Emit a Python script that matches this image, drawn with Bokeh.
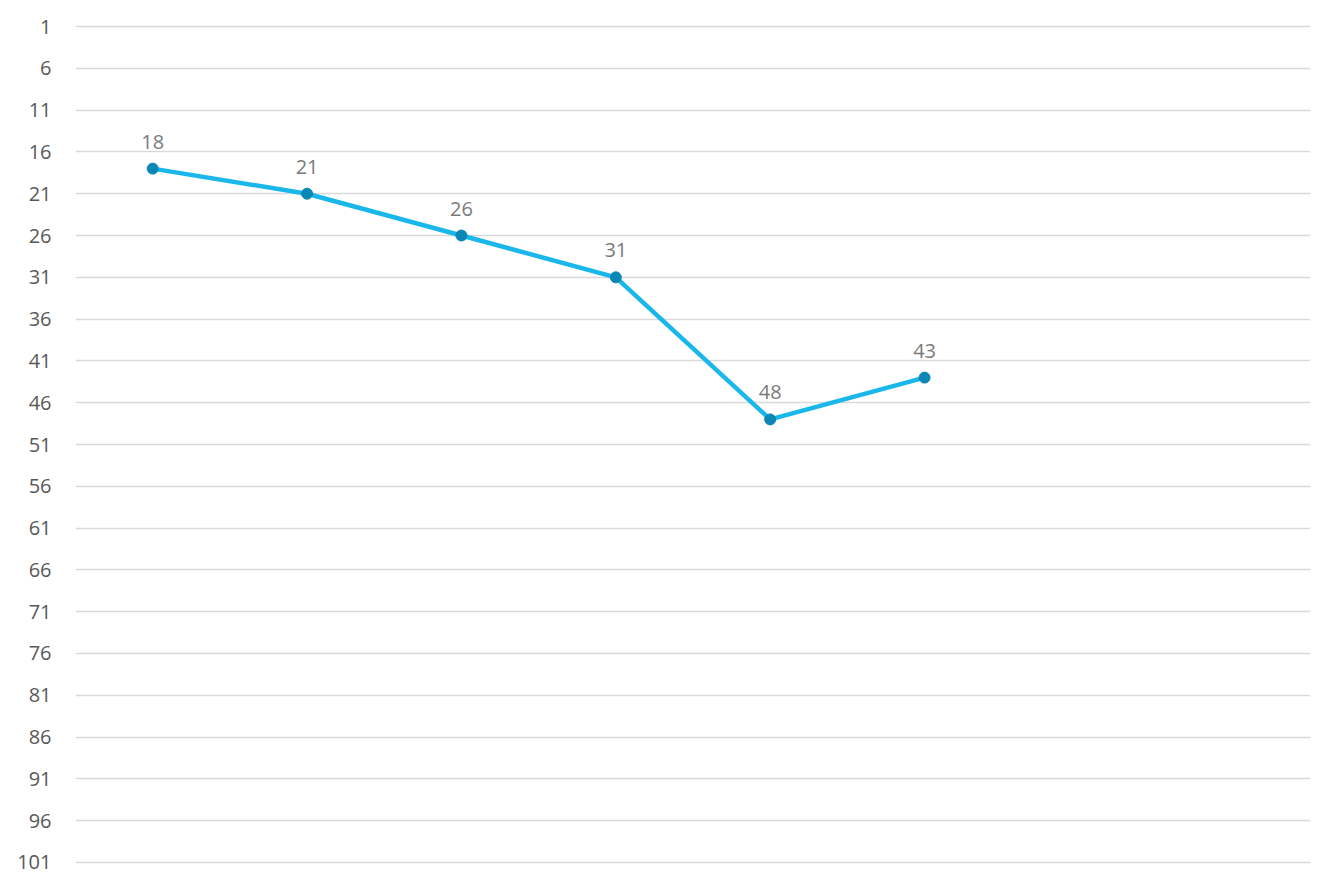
from bokeh.plotting import figure
from bokeh.models import Range1d, FixedTicker, ColumnDataSource
from bokeh.embed import file_html
from bokeh.resources import INLINE
from bokeh.core.properties import value

# data
positions = [1, 2, 3, 4, 5, 6]
values = [18, 21, 26, 31, 48, 43]
labels = [str(v) for v in values]
n_categories = 8
y_ticks = list(range(1, 102, 5))

src = ColumnDataSource(dict(x=positions, y=values, lab=labels))

p = figure(width=1326, height=881, output_backend="svg", toolbar_location=None,
           x_range=Range1d(0.5, n_categories + 0.5), y_range=Range1d(101.24, 0.76),
           min_border_left=75, min_border_right=16, min_border_top=24, min_border_bottom=17)
p.outline_line_color = None
p.xaxis.visible = False
p.xgrid.visible = False
p.ygrid.grid_line_color = "#d9d9d9"
p.ygrid.grid_line_width = 1.5
p.yaxis.ticker = FixedTicker(ticks=y_ticks)
p.yaxis.axis_line_color = None
p.yaxis.major_tick_line_color = None
p.yaxis.minor_tick_line_color = None
p.yaxis.major_label_text_color = "#595959"
p.yaxis.major_label_text_font = "Open Sans"
p.yaxis.major_label_text_font_size = "20px"
p.yaxis.major_label_standoff = 18

p.line("x", "y", source=src, line_color="#1ab7ea", line_width=4.5)
p.scatter("x", "y", source=src, size=11, fill_color="#0b87b5", line_color="#0b87b5")
p.text("x", "y", text="lab", source=src, text_align="center", text_baseline="bottom",
       y_offset=-20, text_color="#7a7a7a", text_font=value("Open Sans"), text_font_size="20px")

open("out.html", "w").write(file_html(p, INLINE))
